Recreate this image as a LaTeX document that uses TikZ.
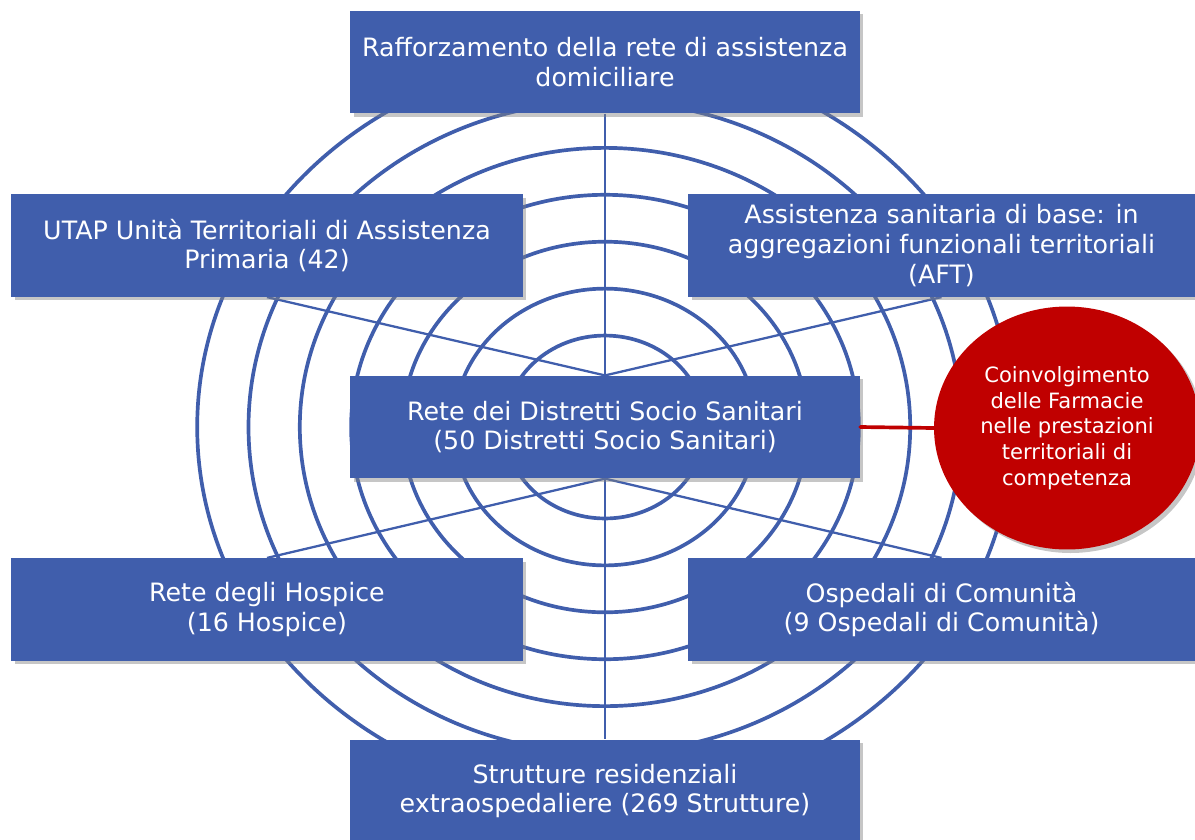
\documentclass[tikz,border=0pt]{standalone}
\usepackage{fontspec}
\setmainfont{DejaVu Sans}
\usetikzlibrary{shadows}
\usetikzlibrary{shapes.geometric}
\usetikzlibrary{backgrounds}

\definecolor{boxblue}{RGB}{64,94,172}
\definecolor{farmred}{RGB}{192,0,0}

\begin{document}
\begin{tikzpicture}[x=0.02cm,y=-0.02cm,
    % styles
    area box/.style={fill=boxblue,text=white,align=center,inner sep=0pt,
      minimum height=2.05cm,font=\fontsize{14.4}{17}\selectfont,
      drop shadow={shadow xshift=2pt,shadow yshift=-2pt,opacity=0.45}},
    wide box/.style={area box,minimum width=10.2cm},
    side box/.style={area box,minimum width=10.2cm},
    ring/.style={boxblue,line width=2.1pt},
    spoke/.style={boxblue,line width=1.3pt},
    link/.style={farmred,line width=2.1pt,line cap=round},
    farm bubble/.style={ellipse,fill=farmred,text=white,align=center,
      inner sep=0pt,minimum width=5.32cm,minimum height=4.86cm,
      font=\fontsize{12}{14.7}\selectfont,
      drop shadow={shadow xshift=2pt,shadow yshift=-2pt,opacity=0.45}}]

  \useasboundingbox (0,0) rectangle (1195,839);

  % boxes
  \node[wide box] (home) at (605,62) {Rafforzamento della rete di assistenza\\domiciliare};
  \node[side box,minimum width=10.24cm] (utap) at (267,245.5) {UTAP Unità Territoriali di Assistenza\\Primaria (42)};
  \node[side box,minimum width=10.14cm] (aft) at (941.5,245.5) {Assistenza sanitaria di base: in\\aggregazioni funzionali territoriali\\(AFT)};
  \node[wide box] (dss) at (605,427) {Rete dei Distretti Socio Sanitari\\(50 Distretti Socio Sanitari)};
  \node[side box,minimum width=10.24cm] (hospice) at (267,609.5) {Rete degli Hospice\\(16 Hospice)};
  \node[side box,minimum width=10.14cm] (odc) at (941.5,609.5) {Ospedali di Comunità\\(9 Ospedali di Comunità)};
  \node[wide box] (res) at (605,791) {Strutture residenziali\\extraospedaliere (269 Strutture)};

  % pharmacies
  \node[farm bubble] (farm) at (1067,428) {Coinvolgimento\\delle Farmacie\\nelle prestazioni\\territoriali di\\competenza};
  \draw[link] (dss.east) -- (farm.west);

  % rings and spokes
  \begin{scope}[on background layer]
    \foreach \k in {0,...,6}
      \draw[ring] (605,427) ellipse [x radius={(100+51.3*\k)*0.02cm},
        y radius={(100+51.3*\k)*0.0183cm}];
    \draw[spoke] (home.south) -- (res.north);
    \draw[spoke] (utap.south) -- (dss.north);
    \draw[spoke] (aft.south) -- (dss.north);
    \draw[spoke] (hospice.north) -- (dss.south);
    \draw[spoke] (odc.north) -- (dss.south);
  \end{scope}
\end{tikzpicture}
\end{document}
